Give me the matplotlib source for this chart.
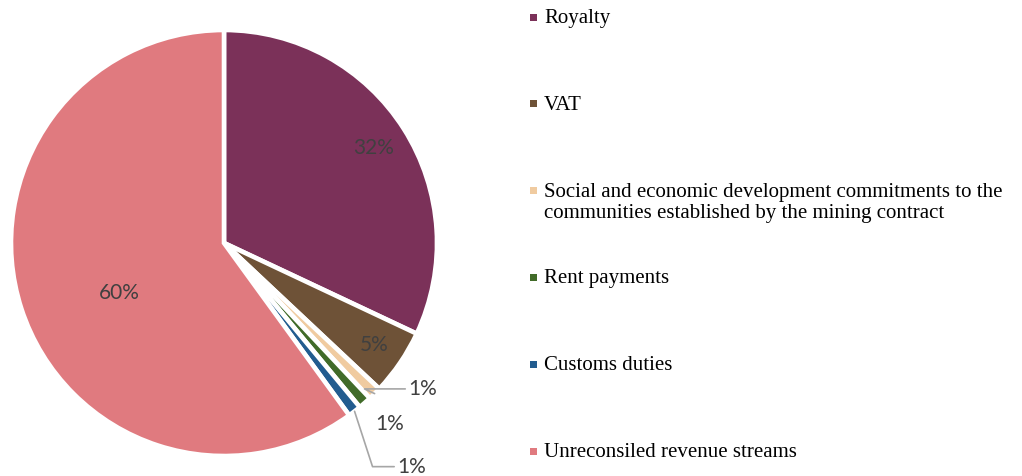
import numpy as np
import matplotlib.pyplot as plt
from matplotlib.patches import Rectangle

# revenue streams and their shares (%)
categories = [
    "Royalty",
    "VAT",
    "Social and economic development commitments to the\ncommunities established by the mining contract",
    "Rent payments",
    "Customs duties",
    "Unreconsiled revenue streams",
]
shares = [32, 5, 1, 1, 1, 60]
colors = ["#7B3159", "#6E5237", "#F0CBA0", "#416B29", "#225C8F", "#E07A7F"]

W, H = 1022, 476
fig = plt.figure(figsize=(W / 100, H / 100), dpi=100)

# pie centre and radius in pixels
cx, cy, r = 224, 243, 213
ax = fig.add_axes([(cx - r) / W, (H - cy - r) / H, 2 * r / W, 2 * r / H])

wedges, _ = ax.pie(shares, colors=colors, startangle=90, counterclock=False,
                   radius=1.0, wedgeprops=dict(edgecolor="white", linewidth=3.3))
# pie() sets its own padded limits, so reset them afterwards
ax.set_xlim(-1, 1)
ax.set_ylim(-1, 1)
ax.set_aspect("equal")
ax.axis("off")

label_font = dict(family="Lato", size=15, color="#404040")

# mid angle of each wedge (degrees, matplotlib convention)
mids = [np.deg2rad((w.theta1 + w.theta2) / 2) for w in wedges]

def at(i, rad):
    return rad * np.cos(mids[i]), rad * np.sin(mids[i])

# inside labels
x, y = at(0, 0.83)
ax.text(x, y, f"{shares[0]}%", ha="center", va="center", **label_font)
x, y = at(1, 0.85)
ax.text(x, y, f"{shares[1]}%", ha="center", va="center", **label_font)
ax.text(-0.49, -0.235, f"{shares[5]}%", ha="center", va="center", **label_font)

# outside labels for the thin slices
lead = dict(color="#A6A6A6", linewidth=1.2)
ax.annotate(f"{shares[2]}%", xy=at(2, 1.0), xytext=(0.864, -0.685),
            ha="left", va="center", annotation_clip=False,
            arrowprops=dict(arrowstyle="-", connectionstyle="angle,angleA=0,angleB=-25,rad=0",
                            shrinkA=0, shrinkB=0, **lead), **label_font)
ax.text(0.779, -0.850, f"{shares[3]}%", ha="center", va="center", clip_on=False, **label_font)
ax.annotate(f"{shares[4]}%", xy=at(4, 1.0), xytext=(0.812, -1.05),
            ha="left", va="center", annotation_clip=False,
            arrowprops=dict(arrowstyle="-", connectionstyle="angle,angleA=0,angleB=-72,rad=0",
                            shrinkA=0, shrinkB=0, **lead), **label_font)

# legend drawn on the right
leg_x, mark_x, msize = 544, 530, 7
leg_y0, leg_step = 17, 86.8
for i, (name, col) in enumerate(zip(categories, colors)):
    yc = leg_y0 + i * leg_step
    fig.patches.append(Rectangle((mark_x / W, (H - yc - msize / 2) / H), msize / W, msize / H,
                                 transform=fig.transFigure, facecolor=col, edgecolor="none"))
    fig.text(leg_x / W, (H - yc + 8) / H, name, ha="left", va="top",
             family="Liberation Serif", fontsize=15, color="black", linespacing=1.15)

fig.savefig("out.png", dpi=100, facecolor="white")
